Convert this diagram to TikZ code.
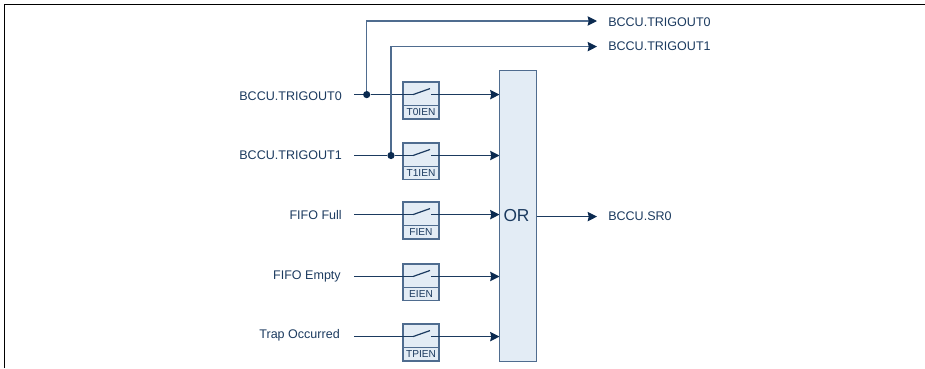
\documentclass[tikz,border=0pt]{standalone}
\usepackage{fontspec}
\setmainfont{Liberation Sans}
\usetikzlibrary{arrows.meta}
\definecolor{ink}{HTML}{1B3A5F}
\definecolor{dark}{HTML}{0B2A50}
\definecolor{edge}{HTML}{4F6C8F}
\definecolor{fillb}{HTML}{E3ECF5}
\tikzset{
  x=0.75pt,y=-0.75pt,
  box/.style={draw=edge,fill=fillb,line width=1pt,minimum width=27pt,inner sep=0pt,outer sep=0pt},
  wire/.style={draw=ink,line width=0.9pt},
  feed/.style={draw=edge,line width=1pt},
  sig/.style={wire,-{Stealth[inset=0.8pt,length=7pt,width=7pt,color=dark]}},
  fsig/.style={feed,-{Stealth[inset=0.8pt,length=7pt,width=7pt,color=dark]}},
  lab/.style={font=\fontsize{9.4}{11}\selectfont,text=ink,inner sep=0pt},
  tag/.style={font=\fontsize{7.6}{9}\selectfont,text=ink,inner sep=0pt},
  dotn/.style={circle,fill=dark,inner sep=0pt,minimum size=5.4pt},
}
\newcommand{\swbox}[3]{%
  \node[box,minimum height=27.6pt,anchor=north west] (#1box) at (403,#2-12.5) {};
  \draw[edge,line width=1pt] (403,#2+10.7) -- (439,#2+10.7);
  \node[tag] (#1tag) at (421,#2+17.5) {#3};
  \coordinate (#1in) at (403,#2);
  \coordinate (#1a) at (413,#2);
  \coordinate (#1b) at (430,#2-6);
  \coordinate (#1c) at (431,#2);
  \coordinate (#1d) at (499.5,#2);
  \draw[wire] (#1a) -- (#1b);
  \draw[sig] (#1c) -- (#1d);
}
\begin{document}
\begin{tikzpicture}
\useasboundingbox (0,0) rectangle (925,368);
\draw[black,line width=1pt] (4.5,368) -- (4.5,4.5) -- (925,4.5);

\swbox{a}{94.6}{T0IEN}
\swbox{b}{155.5}{T1IEN}
\swbox{c}{214.6}{FIEN}
\swbox{d}{276.5}{EIEN}
\swbox{e}{336.6}{TPIEN}

\node[box,anchor=north west,minimum width=27.9pt,minimum height=218pt] (or) at (499.5,70.7) {};
\node[inner sep=0pt,font=\fontsize{13}{15}\selectfont,text=ink] (ortext) at (516.5,216) {OR};

\node[lab,anchor=east] (l0) at (342,95.7) {BCCU.TRIGOUT0};
\node[lab,anchor=east] (l1) at (342,154.7) {BCCU.TRIGOUT1};
\node[lab,anchor=east] (l2) at (342,215.3) {FIFO Full};
\node[lab,anchor=east] (l3) at (341,276.7) {FIFO Empty};
\node[lab,anchor=east] (l4) at (340,335.7) {Trap Occurred};

\node[lab,anchor=west] (o0) at (608,21.7) {BCCU.TRIGOUT0};
\node[lab,anchor=west] (o1) at (608,45.7) {BCCU.TRIGOUT1};
\node[lab,anchor=west] (o2) at (608,215.7) {BCCU.SR0};

\node[dotn] (j0) at (366.7,94.6) {};
\node[dotn] (j1) at (391,155.5) {};

\draw[wire] (354,94.6) -- (j0) -- (ain) -- (aa);
\draw[wire] (354,155.5) -- (j1) -- (bin) -- (ba);
\draw[wire] (354,214.6) -- (cin) -- (ca);
\draw[wire] (354,276.5) -- (din) -- (da);
\draw[wire] (354,336.6) -- (ein) -- (ea);

\coordinate (t0) at (597,21);
\coordinate (t1) at (597,46.6);
\draw[fsig] (j0) -- (366.7,21) -- (t0);
\draw[fsig] (j1) -- (391,46.6) -- (t1);
\draw[sig] (or.east |- 0,216.6) -- (597,216.6);
\end{tikzpicture}
\end{document}
